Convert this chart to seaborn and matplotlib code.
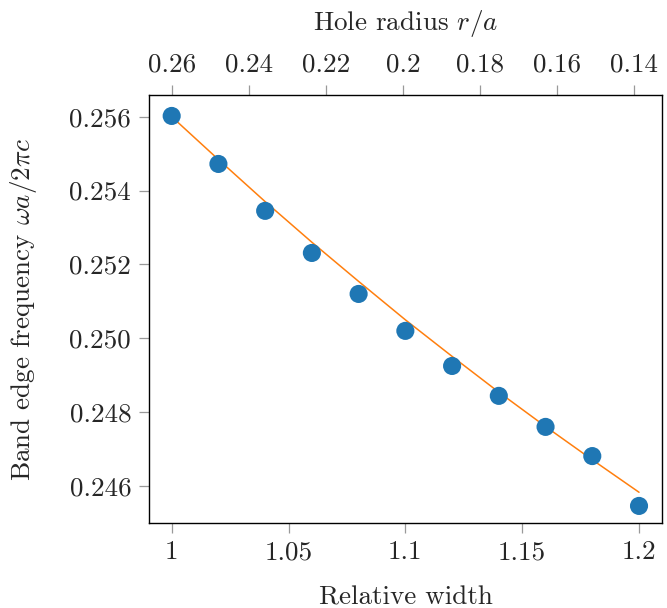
import numpy as np
import pandas as pd
import matplotlib
matplotlib.use("Agg")
import matplotlib.pyplot as plt
from matplotlib.ticker import FuncFormatter, FixedLocator
import seaborn as sns

# data
relative_width = [1.00, 1.02, 1.04, 1.06, 1.08, 1.10, 1.12, 1.14, 1.16, 1.18, 1.20]
band_edge = [0.25602, 0.25472, 0.25345, 0.25231, 0.25120, 0.25020,
             0.24925, 0.24844, 0.24760, 0.24681, 0.24546]
fit_values = [0.25600, 0.25484, 0.25370, 0.25260, 0.25154, 0.25050,
              0.24951, 0.24854, 0.24761, 0.24671, 0.24583]
x_ticks = [1.0, 1.05, 1.1, 1.15, 1.2]
y_ticks = [0.246, 0.248, 0.250, 0.252, 0.254, 0.256]
top_ticks = [0.26, 0.24, 0.22, 0.2, 0.18, 0.16, 0.14]
r0 = 0.26
r_slope = 0.606

sns.set_style("ticks")
plt.rcParams["font.family"] = ["cmr10", "DejaVu Serif"]
plt.rcParams["mathtext.fontset"] = "cm"
plt.rcParams["axes.formatter.use_mathtext"] = True
FS = 19.5

df = pd.DataFrame({"w": relative_width, "f": band_edge, "fit": fit_values})

fig = plt.figure(figsize=(6.67, 6.08), dpi=100)
ax = fig.add_axes([0.2238, 0.1403, 0.9921 - 0.2238, 0.8438 - 0.1403])

sns.lineplot(data=df, x="w", y="fit", ax=ax, color="#ff7f0e", linewidth=1.1, zorder=2)
sns.scatterplot(data=df, x="w", y="f", ax=ax, color="#1f77b4", s=170,
                edgecolor="none", zorder=3)

ax.set_xlim(0.99041, 1.20972)
ax.set_ylim(0.245006, 0.256588)
ax.xaxis.set_major_locator(FixedLocator(x_ticks))
ax.yaxis.set_major_locator(FixedLocator(y_ticks))
ax.xaxis.set_major_formatter(FuncFormatter(lambda v, p: "%g" % round(v, 4)))
ax.yaxis.set_major_formatter(FuncFormatter(lambda v, p: "%.3f" % v))

ax.set_xlabel("Relative width", fontsize=FS, labelpad=15)
ax.set_ylabel(r"Band edge frequency $\omega a/2\pi c$", fontsize=FS, labelpad=22)

for s in ax.spines.values():
    s.set_color("black")
    s.set_linewidth(1.0)
ax.tick_params(axis="both", direction="out", length=7, width=0.9, color="#999999",
               labelsize=FS, pad=6, top=False, right=False)

def fwd(w):
    return r0 - (np.asarray(w) - 1.0) * r_slope

def inv(r):
    return 1.0 + (r0 - np.asarray(r)) / r_slope

sec = ax.secondary_xaxis("top", functions=(fwd, inv))
sec.xaxis.set_major_locator(FixedLocator(top_ticks))
sec.xaxis.set_major_formatter(FuncFormatter(lambda v, p: "%g" % round(v, 4)))
sec.tick_params(direction="out", length=7, width=0.9, color="#999999",
                labelsize=FS, pad=6)
sec.spines["top"].set_visible(False)
sec.set_xlabel(r"Hole radius $r/a$", fontsize=FS, labelpad=17)

fig.savefig("out.png", dpi=100)
